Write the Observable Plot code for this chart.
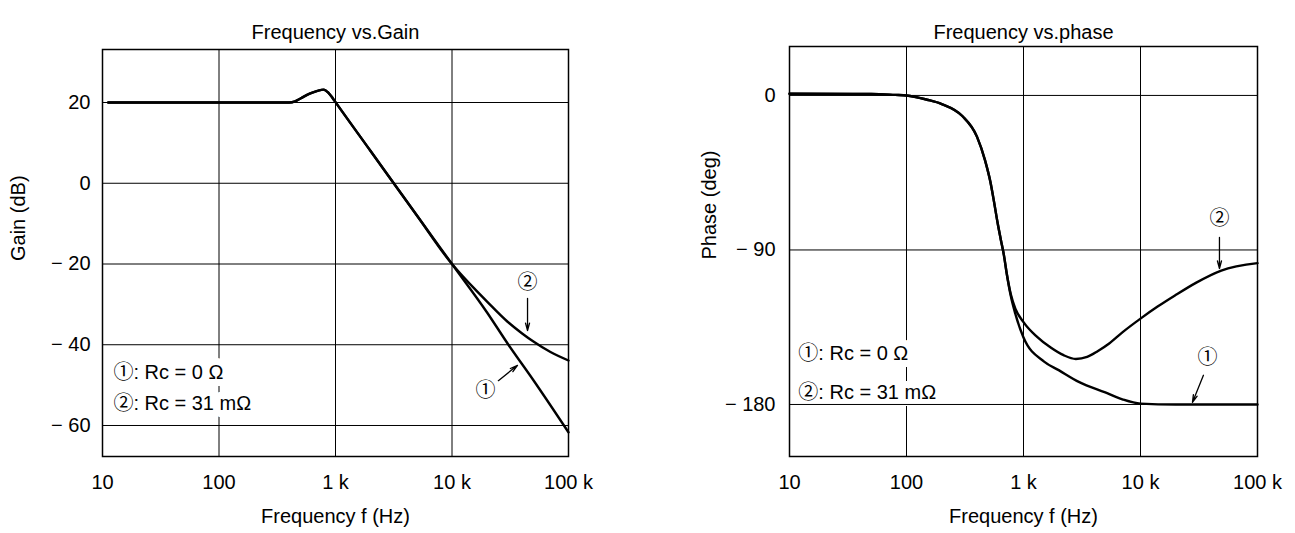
<!DOCTYPE html>
<html><head><meta charset="utf-8">
<script src="https://cdn.jsdelivr.net/npm/d3@7"></script>
<script src="https://cdn.jsdelivr.net/npm/@observablehq/plot@0.6"></script>
<style>
body{margin:0;background:#fff;}
#wrap{position:relative;width:1295px;height:533px;overflow:hidden;}
#left{position:absolute;left:0;top:0;}
#right{position:absolute;left:647px;top:0;}
</style></head><body><div id="wrap"><div id="left"></div><div id="right"></div></div>
<script>
// ---- ticks ----
const freqTicks = [10, 100, 1000, 10000, 100000];
const freqTickLabels = ["10", "100", "1 k", "10 k", "100 k"];
const gainTicks = [20, 0, -20, -40, -60];
const gainTickLabels = ["20", "0", "\u2212 20", "\u2212 40", "\u2212 60"];
const phaseTicks = [0, -90, -180];
const phaseTickLabels = ["0", "\u2212 90", "\u2212 180"];

// ---- titles / labels ----
const titles = ["Frequency vs.Gain", "Frequency vs.phase"];
const xLabel = "Frequency f (Hz)";
const yLabels = ["Gain (dB)", "Phase (deg)"];
const legendLabels = ["\u2460: Rc = 0 \u03A9", "\u2461: Rc = 31 m\u03A9"];

// ---- gain curves (Hz, dB) ----
const gainFreq1 = [11.2, 100, 300, 400, 450, 500, 600, 700, 790, 870, 940, 1000, 2000, 5000, 10000, 20000, 30500, 50000, 100000];
const gain1     = [20, 20, 20, 20, 20.3, 21.0, 22.2, 22.9, 23.2, 22.4, 21.2, 20.1, 8, -8, -20, -32, -40, -48.8, -61.7];
const gainFreq2 = [11.2, 100, 300, 400, 450, 500, 600, 700, 790, 870, 940, 1000, 2000, 5000, 10000, 12000, 15000, 20000, 30000, 40000, 50000, 70000, 100000];
const gain2     = [20, 20, 20, 20, 20.3, 21.0, 22.2, 22.9, 23.2, 22.4, 21.2, 20.1, 8, -8, -20, -22.6, -25.6, -29.3, -34.3, -37.2, -39.2, -41.8, -43.9];

// ---- phase curves (Hz, deg) ----
const phaseFreq1 = [10, 50, 80, 100, 150, 200, 300, 400, 470, 520, 560, 600, 640, 680, 720, 780, 850, 1000, 1500, 2000, 3000, 5000, 7000, 10000, 20000, 100000];
const phase1     = [1, 0.8, 0.3, 0, -2.5, -5, -12, -24, -38, -50, -62, -74, -84, -93, -104, -117, -127, -141, -155, -160, -167, -173, -177, -179.5, -180, -180];
const phaseFreq2 = [10, 50, 80, 100, 150, 200, 300, 400, 470, 520, 560, 600, 640, 680, 720, 780, 850, 1000, 1300, 1720, 2200, 2800, 3500, 4300, 5400, 7000, 10000, 14000, 19700, 30000, 49000, 100000];
const phase2     = [1, 0.8, 0.3, 0, -2.5, -5, -12, -24, -38, -50, -62, -74, -84, -93, -104, -116, -124, -132, -140.5, -147, -151.3, -153.5, -152.3, -149, -144.5, -138, -130, -123, -116.5, -109, -102, -97.7];

// ---- annotations ----
const gainMarkLabels = ["\u2461", "\u2460"];
const gainMarkX = [44500, 19400];
const gainMarkY = [-24.6, -51.3];
const gainArrowX1 = [44500, 25000];
const gainArrowY1 = [-28.5, -48.9];
const gainArrowX2 = [44500, 36500];
const gainArrowY2 = [-36.5, -45.1];
const gainLegendX = 12.4;
const gainLegendY = [-46.9, -54.5];

const phaseMarkLabels = ["\u2461", "\u2460"];
const phaseMarkX = [47300, 37400];
const phaseMarkY = [-71.6, -152.6];
const phaseArrowX1 = [47300, 34500];
const phaseArrowY1 = [-82.7, -163];
const phaseArrowX2 = [47300, 27800];
const phaseArrowY2 = [-100.8, -178.8];
const phaseLegendX = 11.9;
const phaseLegendY = [-150.3, -173];

const FONT = '"Liberation Sans", Arial, Helvetica, "Noto Sans CJK JP", sans-serif';

function series(fs, vs, name) { return fs.map((f, i) => ({f, v: vs[i], name})); }
function pts(xs, ys, labels) { return xs.map((x, i) => ({x, y: ys[i], label: labels ? labels[i] : null})); }
function arrows(x1, y1, x2, y2) { return x1.map((_, i) => ({x1: x1[i], y1: y1[i], x2: x2[i], y2: y2[i]})); }

function makeChart(o) {
  const curves = [...series(o.f1, o.v1, "1"), ...series(o.f2, o.v2, "2")];
  const legend = o.legendY.map((y, i) => ({x: o.legendX, y, label: legendLabels[i]}));
  return Plot.plot({
    width: o.width, height: 533,
    marginLeft: o.ml, marginRight: o.mr, marginTop: o.mt, marginBottom: 77,
    style: {fontFamily: FONT, fontSize: "20px", color: "black", background: "white", overflow: "visible"},
    x: {type: "log", domain: [10, 100000]},
    y: {domain: o.ydomain},
    marks: [
      Plot.ruleX(freqTicks, {x: d => d, stroke: "black", strokeWidth: 1}),
      Plot.text(legend, {x: "x", y: "y", text: "label", textAnchor: "start", lineAnchor: "middle", fill: "black", stroke: "white", strokeWidth: 14, fontSize: 20}),
      Plot.ruleY(o.yticks, {y: d => d, stroke: "black", strokeWidth: 1}),
      Plot.frame({stroke: "black", strokeWidth: 1.5}),
      Plot.line(curves, {x: "f", y: "v", z: "name", stroke: "black", strokeWidth: 2.4, curve: "monotone-x"}),
      Plot.arrow(arrows(o.ax1, o.ay1, o.ax2, o.ay2), {x1: "x1", y1: "y1", x2: "x2", y2: "y2", stroke: "black", strokeWidth: 1.3, headLength: 9, headAngle: 30}),
      Plot.text(pts(o.mx, o.my, o.mlabels), {x: "x", y: "y", text: "label", fill: "black", fontSize: 20}),
      Plot.axisX({ticks: freqTicks, tickFormat: d => freqTickLabels[freqTicks.indexOf(d)], tickSize: 0, tickPadding: 18, label: null, fontSize: 20}),
      Plot.axisY({ticks: o.yticks, tickFormat: d => o.ylabels[o.yticks.indexOf(d)], tickSize: 0, tickPadding: o.ypad, label: null, fontSize: 20}),
      Plot.text([o.title], {frameAnchor: "top", dy: 24 - o.mt, text: d => d, fontSize: 20, fill: "black"}),
      Plot.text([xLabel], {frameAnchor: "bottom", dy: 66, text: d => d, fontSize: 20, fill: "black"}),
      Plot.text([o.ylabel], {frameAnchor: "left", dx: o.ylabelDx, dy: 8, rotate: -90, text: d => d, fontSize: 20, fill: "black"})
    ]
  });
}

document.getElementById("left").append(makeChart({
  width: 647, ml: 102, mr: 79, mt: 49,
  ydomain: [-67.68, 33.13], yticks: gainTicks, ylabels: gainTickLabels, ypad: 12,
  f1: gainFreq1, v1: gain1, f2: gainFreq2, v2: gain2,
  legendX: gainLegendX, legendY: gainLegendY,
  ax1: gainArrowX1, ay1: gainArrowY1, ax2: gainArrowX2, ay2: gainArrowY2,
  mx: gainMarkX, my: gainMarkY, mlabels: gainMarkLabels,
  title: titles[0], ylabel: yLabels[0], ylabelDx: 18 - 102
}));

document.getElementById("right").append(makeChart({
  width: 648, ml: 142, mr: 38, mt: 46,
  ydomain: [-210.3, 28.5], yticks: phaseTicks, ylabels: phaseTickLabels, ypad: 14,
  f1: phaseFreq1, v1: phase1, f2: phaseFreq2, v2: phase2,
  legendX: phaseLegendX, legendY: phaseLegendY,
  ax1: phaseArrowX1, ay1: phaseArrowY1, ax2: phaseArrowX2, ay2: phaseArrowY2,
  mx: phaseMarkX, my: phaseMarkY, mlabels: phaseMarkLabels,
  title: titles[1], ylabel: yLabels[1], ylabelDx: (709 - 647) - 142
}));
</script>
</body></html>
